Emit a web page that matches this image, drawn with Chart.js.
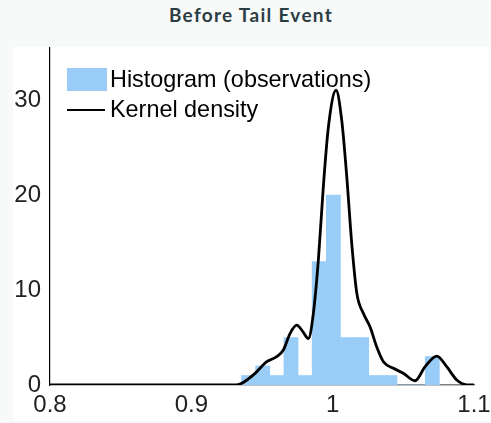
<!DOCTYPE html>
<html>
<head>
<meta charset="utf-8">
<script src="https://cdn.jsdelivr.net/npm/chart.js@4"></script>
<style>
  body { margin: 0; background: #f8f9f9; width: 491px; height: 423px; overflow: hidden; position: relative; }
  #title { position: absolute; left: 0; top: 3px; width: 502px; text-align: center; letter-spacing: 1.3px;
           font-family: Lato, "Open Sans", sans-serif; font-weight: bold; font-size: 19px; color: #2b3e44; }
  #panel { position: absolute; left: 13px; top: 47px; width: 478px; height: 374px; background: #fff; }
  #densityChart { position: absolute; left: 0; top: 0; }
  .legend-row { position: absolute; left: 67px; font-family: "Liberation Sans", Arial, sans-serif;
                font-size: 23.4px; color: #000; display: flex; align-items: center; }
  .swatch { width: 40px; height: 23px; background: #99cdf7; margin-right: 3px; }
  .swatch-line { width: 38px; height: 0; border-top: 2.6px solid #000; margin-right: 5px; }
</style>
</head>
<body>
<div id="title">Before Tail Event</div>
<div id="panel"></div>
<canvas id="densityChart" width="491" height="423"></canvas>
<div class="legend-row" style="top:66px"><div class="swatch"></div>Histogram (observations)</div>
<div class="legend-row" style="top:96px"><div class="swatch-line"></div>Kernel density</div>

<script>
// histogram bins (width 0.01) and observation counts
const binCenters = [0.9405, 0.9505, 0.9605, 0.9705, 0.9805, 0.9905, 1.0005,
                    1.0105, 1.0205, 1.0305, 1.0405, 1.0505, 1.0605, 1.0705];
const binCounts = [1, 2, 1, 5, 1, 13, 20, 5, 5, 1, 1, 0, 0, 3];

// kernel density curve
const kdeX = [0.80, 0.85, 0.90, 0.925, 0.932, 0.9357, 0.9451, 0.9534, 0.9604, 0.9651, 0.9699,
              0.9746, 0.9790, 0.9828, 0.9863, 0.9899, 0.9934, 0.9970, 1.0024, 1.0064,
              1.0100, 1.0135, 1.0171, 1.0217, 1.0265, 1.0312, 1.0359, 1.0430, 1.0500,
              1.0583, 1.0654, 1.0737, 1.0807, 1.0878, 1.0949, 1.10];
const kdeY = [0, 0, 0, 0, 0.02, 0.18, 1.23, 2.45, 2.98, 3.68, 5.44,
              6.3, 5.6, 4.9, 7.5, 13.2, 20.9, 27.2, 31.05, 27.9,
              21.9, 14.9, 9.65, 7.55, 6.1, 4.0, 2.45, 1.76, 1.23,
              0.45, 1.93, 3.05, 1.93, 0.53, 0.02, 0];

const xTicks = [0.8, 0.9, 1.0, 1.1];
const xTickLabels = ['0.8', '0.9', '1', '1.1'];
const yTicks = [0, 10, 20, 30];
const yTickLabels = ['0', '10', '20', '30'];

const ctx = document.getElementById('densityChart').getContext('2d');

const histData = binCenters.map((x, i) => ({ x: x, y: binCounts[i] }));
const kdeData = kdeX.map((x, i) => ({ x: x, y: kdeY[i] }));

const tickFont = { family: '"Liberation Sans", Arial, sans-serif', size: 24 };

function labelFor(ticks, labels, v) {
  const idx = ticks.findIndex(t => Math.abs(t - v) < 1e-6);
  return idx >= 0 ? labels[idx] : '';
}

new Chart(ctx, {
  type: 'bar',
  data: {
    datasets: [
      {
        type: 'line',
        label: 'Kernel density',
        data: kdeData,
        borderColor: '#000',
        borderWidth: 2.8,
        pointRadius: 0,
        fill: false,
        cubicInterpolationMode: 'monotone',
      },
      {
        label: 'Histogram (observations)',
        data: histData,
        backgroundColor: '#99cdf7',
        borderWidth: 0,
        barPercentage: 1,
        categoryPercentage: 1,
      },
    ],
  },
  options: {
    responsive: false,
    animation: false,
    layout: { padding: { top: 48, right: 17, left: 0, bottom: 0 } },
    plugins: { legend: { display: false }, tooltip: { enabled: false } },
    scales: {
      x: {
        type: 'linear',
        min: 0.8,
        max: 1.1,
        offset: false,
        grid: { display: false, drawTicks: false },
        border: { color: '#808080', width: 1.5 },
        afterFit: scale => {
          scale.height = 38;
          // let the "1.1" label run into the margin like the original
          scale.paddingLeft = 0;
          scale.paddingRight = 0;
        },
        afterBuildTicks: scale => { scale.ticks = xTicks.map(v => ({ value: v })); },
        ticks: {
          font: tickFont,
          color: '#222',
          padding: 6,
          maxRotation: 0,
          callback: v => labelFor(xTicks, xTickLabels, v),
        },
      },
      y: {
        min: 0,
        max: 35.5,
        grid: { display: false, drawTicks: false },
        border: { color: '#000', width: 1.2 },
        afterFit: scale => { scale.width = 50; },
        afterBuildTicks: scale => { scale.ticks = yTicks.map(v => ({ value: v })); },
        ticks: {
          font: tickFont,
          color: '#222',
          padding: 9,
          callback: v => labelFor(yTicks, yTickLabels, v),
        },
      },
    },
  },
});
</script>
</body>
</html>
